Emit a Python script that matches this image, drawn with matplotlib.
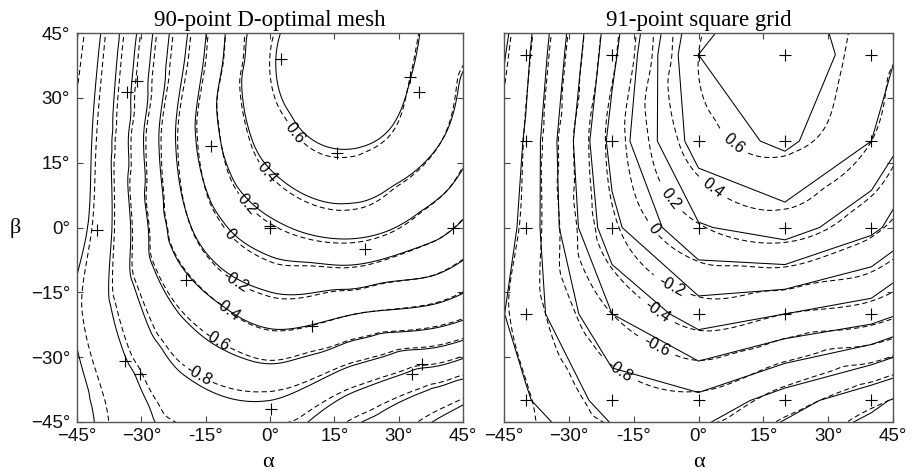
import numpy as np
import matplotlib
matplotlib.use("Agg")
import matplotlib.pyplot as plt
import matplotlib.tri as mtri
from matplotlib.ticker import FixedLocator

# ---------------- data ----------------
alpha_nodes = [-60, -40, -20, 0, 20, 40, 60]
beta_nodes = [-60, -40, -20, 0, 20, 40, 60]

# true response at the square-grid nodes (rows: beta, cols: alpha)
true_vals = [
    [-1.30, -1.25, -1.20, -1.30, -1.55, -1.70, -1.80],
    [-1.30, -1.22, -0.92, -0.85, -1.10, -1.35, -1.60],
    [-1.45, -1.12, -0.60, -0.30, -0.40, -0.50, -0.80],
    [-1.65, -1.15, -0.25, 0.18, 0.30, 0.05, -0.35],
    [-1.80, -1.18, -0.13, 0.50, 0.64, 0.40, -0.15],
    [-1.90, -1.25, -0.25, 0.60, 0.74, 0.50, 0.15],
    [-1.95, -1.35, -0.35, 0.45, 0.64, 0.50, -0.10],
]

# model fitted from the D-optimal mesh (rows: beta, cols: alpha)
model_vals = [
    [-1.28, -1.22, -1.15, -1.25, -1.50, -1.65, -1.76],
    [-1.25, -1.18, -0.88, -0.80, -1.06, -1.31, -1.56],
    [-1.40, -1.08, -0.58, -0.32, -0.40, -0.49, -0.78],
    [-1.60, -1.12, -0.25, 0.15, 0.27, 0.05, -0.35],
    [-1.75, -1.14, -0.11, 0.48, 0.62, 0.40, -0.12],
    [-1.85, -1.20, -0.21, 0.57, 0.73, 0.51, 0.15],
    [-1.92, -1.30, -0.32, 0.43, 0.64, 0.50, -0.10],
]

levels = [-1.8, -1.6, -1.4, -1.2, -1.0, -0.8, -0.6, -0.4, -0.2, 0.0, 0.2, 0.4, 0.6]
label_levels = [-0.8, -0.6, -0.4, -0.2, 0.0, 0.2, 0.4, 0.6]
other_levels = [-1.8, -1.6, -1.4, -1.2, -1.0]

# D-optimal mesh points (alpha, beta) in degrees
dopt_alpha = [2.5, 32.6, 34.8, 15.6, -13.7, -31.1, -33.3, -40.3, 0.0, 0.0, 42.6,
              22.1, -19.6, 9.7, -33.9, -30.3, 33.2, 35.4, 0.3]
dopt_beta = [38.9, 34.8, 31.4, 17.3, 18.9, 33.9, 31.4, -0.6, 0.0, 0.3, -0.2,
             -5.0, -12.2, -22.7, -30.8, -33.8, -33.8, -31.6, -42.1]

# square grid points
grid_alpha = [-40, -20, 0, 20, 40]
grid_beta = [-40, -20, 0, 20, 40]

tick_vals = [-45, -30, -15, 0, 15, 30, 45]
xtick_labels = ["\u221245\u00b0", "\u221230\u00b0", "-15\u00b0", "0\u00b0", "15\u00b0", "30\u00b0", "45\u00b0"]
ytick_labels = ["\u221245\u00b0", "\u221230\u00b0", "\u221215\u00b0", "0\u00b0", "15\u00b0", "30\u00b0", "45\u00b0"]

# label anchor positions (alpha, beta)
left_label_pos = [(5.8, 21.8), (-0.8, 12.5), (-5.1, 5.6), (-9.0, -1.3),
                  (-7.5, -11.8), (-10.2, -19.5), (-13.0, -26.8), (-16.9, -34.5)]
right_label_pos = [(9.1, 20.6), (4.5, 10.6), (-6.7, 6.4), (-10.9, -0.6),
                   (-5.6, -12.2), (-9.4, -19.1), (-9.4, -26.8), (-18.7, -33.8)]

# ---------------- helpers ----------------
A, B = np.meshgrid(np.array(alpha_nodes, float), np.array(beta_nodes, float))
tri = mtri.Triangulation(A.ravel(), B.ravel())
fa = np.linspace(-46, 46, 233)
FA, FB = np.meshgrid(fa, fa)


def smooth_field(vals):
    z = np.array(vals, float).ravel()
    interp = mtri.CubicTriInterpolator(tri, z, kind="geom")
    return interp(FA, FB)


plt.rcParams["font.family"] = ["Liberation Sans", "DejaVu Sans"]
fig = plt.figure(figsize=(9.13, 4.71), dpi=100)

ax_l = fig.add_axes([77 / 913, 49 / 471, 386 / 913, 389 / 471])
ax_r = fig.add_axes([504 / 913, 49 / 471, 389 / 913, 389 / 471])

dash = (0, (5.0, 3.0))
lw = 0.75

true_fine = smooth_field(true_vals)
model_fine = smooth_field(model_vals)

# left panel
ax_l.contour(FA, FB, model_fine, levels=levels, colors="k", linewidths=lw, linestyles="solid")
ax_l.contour(FA, FB, true_fine, levels=other_levels, colors="k", linewidths=lw, linestyles=[dash])
cs_l = ax_l.contour(FA, FB, true_fine, levels=label_levels, colors="k", linewidths=lw, linestyles=[dash])
ax_l.plot(dopt_alpha, dopt_beta, "k+", ms=9, mew=0.8)

# right panel
ax_r.contour(np.array(alpha_nodes), np.array(beta_nodes), np.array(true_vals),
             levels=levels, colors="k", linewidths=lw, linestyles="solid")
ax_r.contour(FA, FB, true_fine, levels=other_levels, colors="k", linewidths=lw, linestyles=[dash])
cs_r = ax_r.contour(FA, FB, true_fine, levels=label_levels, colors="k", linewidths=lw, linestyles=[dash])
GA, GB = np.meshgrid(grid_alpha, grid_beta)
ax_r.plot(GA.ravel(), GB.ravel(), "k+", ms=9, mew=0.8)

for ax, cs, pos in [(ax_l, cs_l, left_label_pos), (ax_r, cs_r, right_label_pos)]:
    ax.clabel(cs, manual=pos, fmt="%g", fontsize=11.5, inline=True, inline_spacing=2)

for ax, title in [(ax_l, "90-point D-optimal mesh"), (ax_r, "91-point square grid")]:
    ax.set_xlim(-45, 45)
    ax.set_ylim(-45, 45)
    ax.xaxis.set_major_locator(FixedLocator(tick_vals))
    ax.yaxis.set_major_locator(FixedLocator(tick_vals))
    ax.set_xticklabels(xtick_labels, fontsize=13.5)
    ax.tick_params(direction="in", length=4, width=0.8, top=True, right=True,
                   colors="#444444", labelcolor="#111111", pad=4)
    for sp in ax.spines.values():
        sp.set_color("#555555")
        sp.set_linewidth(1.0)
    ax.set_title(title, fontsize=16.5, family="Liberation Serif", pad=5)

ax_l.set_yticklabels(ytick_labels, fontsize=13.5)
ax_l.tick_params(axis="y", pad=5)
ax_r.set_yticklabels([])

fig.text(15 / 913, 1 - 228 / 471, "\u03b2", fontsize=16, family="Liberation Serif",
         ha="center", va="center")
for xc in (268 / 913, 699 / 913):
    fig.text(xc, 1 - 467 / 471, "\u03b1", fontsize=16, family="Liberation Serif",
             ha="center", va="baseline")

fig.savefig("out.png", dpi=100)
